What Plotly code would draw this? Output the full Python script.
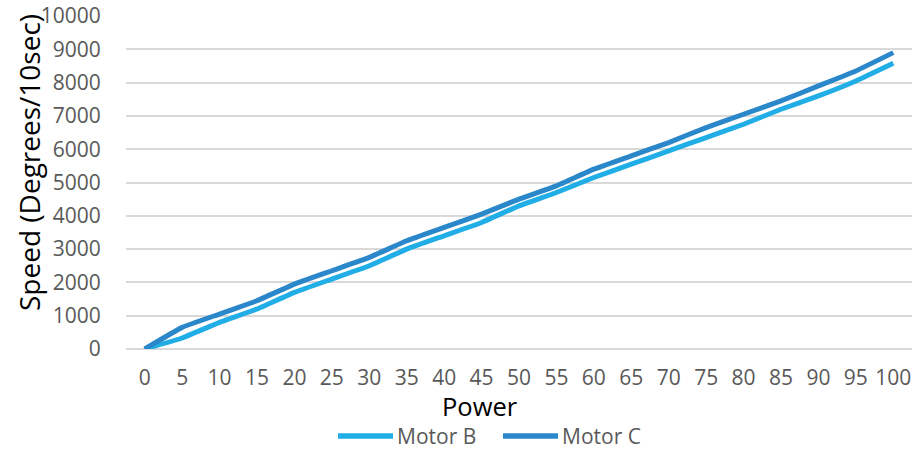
import plotly.graph_objects as go

power = [0, 5, 10, 15, 20, 25, 30, 35, 40, 45, 50, 55, 60, 65, 70, 75, 80, 85, 90, 95, 100]
motor_b = [0, 330, 800, 1200, 1700, 2100, 2500, 3000, 3400, 3800, 4300, 4700, 5150, 5550,
           5950, 6350, 6750, 7200, 7600, 8050, 8580]
motor_c = [0, 650, 1050, 1450, 1950, 2350, 2750, 3250, 3650, 4050, 4500, 4900, 5400, 5800,
           6200, 6650, 7050, 7450, 7900, 8350, 8900]
y_ticks = [0, 1000, 2000, 3000, 4000, 5000, 6000, 7000, 8000, 9000, 10000]
series_names = ["Motor B", "Motor C"]
series_colors = ["#21AEE6", "#2A87CA"]

FONT = "Open Sans"
L, R, T, B = 126, 3, 16, 102
W, H = 915, 451
PW, PH = W - L - R, H - T - B

def px_x(px):
    return (px - L) / PW

def px_y(py):
    return (H - B - py) / PH

fig = go.Figure()
for name, ys, col in zip(series_names, [motor_b, motor_c], series_colors):
    fig.add_trace(go.Scatter(x=power, y=ys, mode="lines", name=name,
                             line=dict(color=col, width=5, shape="spline", smoothing=0.3)))

# custom legend (line swatch + label) placed like the reference
legend_line_x = [(338, 393), (503, 558)]
legend_y = 436
shapes = []
annotations = []
for (x0, x1), name, col in zip(legend_line_x, series_names, series_colors):
    shapes.append(dict(type="line", xref="paper", yref="paper",
                       x0=px_x(x0), x1=px_x(x1), y0=px_y(legend_y), y1=px_y(legend_y),
                       line=dict(color=col, width=5.5)))
    annotations.append(dict(text=name, xref="paper", yref="paper", x=px_x(x1 + 3),
                            y=px_y(legend_y), xanchor="left", yanchor="middle",
                            showarrow=False, borderpad=0,
                            font=dict(size=21, color="#595959", family=FONT)))

annotations += [
    dict(text="Power", xref="paper", yref="paper", x=px_x(480), y=px_y(406),
         xanchor="center", yanchor="middle", showarrow=False, borderpad=0,
         font=dict(size=25.5, color="black", family=FONT)),
    dict(text="Speed (Degrees/10sec)", xref="paper", yref="paper", x=px_x(29), y=px_y(163),
         xanchor="center", yanchor="middle", showarrow=False, textangle=-90,
         font=dict(size=28, color="black", family=FONT)),
]

fig.update_layout(
    width=W, height=H,
    margin=dict(l=L, r=R, t=T, b=B, autoexpand=False),
    paper_bgcolor="white", plot_bgcolor="white",
    font=dict(family=FONT, color="#595959", size=21),
    showlegend=False,
    xaxis=dict(range=[-2.5, 102.5], tickmode="array", tickvals=power,
               ticktext=[str(p) for p in power], showgrid=False, zeroline=False,
               showline=False, ticks="outside", ticklen=10, tickcolor="rgba(0,0,0,0)"),
    yaxis=dict(range=[0, 10000], tickmode="array", tickvals=y_ticks,
               ticktext=[str(v) for v in y_ticks],
               showgrid=True, gridcolor="#D9D9D9", gridwidth=1.5,
               zeroline=True, zerolinecolor="#D9D9D9", zerolinewidth=1.5,
               showline=False, ticks="outside", ticklen=20, tickcolor="rgba(0,0,0,0)"),
    shapes=shapes,
    annotations=annotations,
)

fig.write_html("out.html", config={"displayModeBar": False},
               post_script="document.body.style.margin='0px';")
